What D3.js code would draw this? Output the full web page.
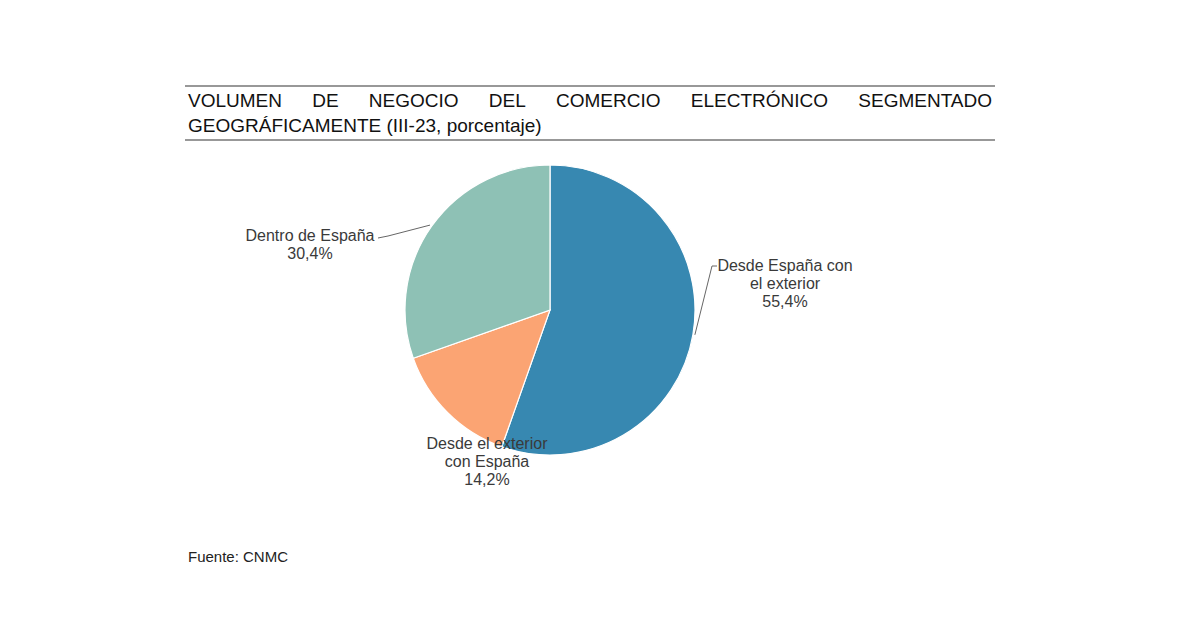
<!DOCTYPE html>
<html>
<head>
<meta charset="utf-8">
<script src="https://cdn.jsdelivr.net/npm/d3@7"></script>
<style>
  body { margin: 0; background: #fff; }
  svg { display: block; }
</style>
</head>
<body>
<svg id="chart" width="1200" height="630"></svg>
<script>
"use strict";

// data
var categories = ["Desde España con el exterior", "Desde el exterior con España", "Dentro de España"];
var labelLines = [["Desde España con", "el exterior"], ["Desde el exterior", "con España"], ["Dentro de España"]];
var values = [55.4, 14.2, 30.4];
var colors = ["#3788b1", "#fba473", "#8ec1b5"];

var titleLines = ["VOLUMEN DE NEGOCIO DEL COMERCIO ELECTRÓNICO SEGMENTADO", "GEOGRÁFICAMENTE (III-23, porcentaje)"];
var source = "Fuente: CNMC";

var svg = d3.select("#chart");
var titleFont = "'Liberation Sans', Arial, sans-serif";

// title rules
svg.append("line").attr("x1", 185).attr("x2", 995).attr("y1", 86).attr("y2", 86)
    .attr("stroke", "#333").attr("stroke-width", 1.2);
svg.append("line").attr("x1", 185).attr("x2", 995).attr("y1", 140).attr("y2", 140)
    .attr("stroke", "#333").attr("stroke-width", 1.2);

// first title line is justified across the full width
var words = titleLines[0].split(" ");
var tg = svg.append("g");
var wt = tg.selectAll("text").data(words).enter().append("text")
    .attr("y", 107)
    .style("font-family", titleFont)
    .style("font-size", "19px")
    .attr("fill", "#111")
    .text(function(d) { return d; });
var widths = [];
wt.each(function() { widths.push(this.getComputedTextLength()); });
var left = 188, right = 992;
var gap = (right - left - d3.sum(widths)) / (words.length - 1);
var x = left;
wt.attr("x", function(d, i) { var p = x; x += widths[i] + gap; return p; });

svg.append("text").attr("x", 188).attr("y", 132)
    .style("font-family", titleFont)
    .style("font-size", "19px")
    .attr("fill", "#111")
    .text(titleLines[1]);

// pie
var cx = 550, cy = 310, r = 145;
var pie = d3.pie().sort(null).value(function(d) { return d; });
var arcs = pie(values);
var arc = d3.arc().innerRadius(0).outerRadius(r);

var g = svg.append("g").attr("transform", "translate(" + cx + "," + cy + ")");
g.selectAll("path").data(arcs).enter().append("path")
    .attr("d", arc)
    .attr("fill", function(d, i) { return colors[i]; })
    .attr("stroke", "#fff")
    .attr("stroke-width", 1.2);

// labels: anchor (centre of first line) and optional leader
var edge = d3.arc().innerRadius(r + 2).outerRadius(r + 2);
var labelAt = [
  { x: 785, y: 271, leader: [[712, 266], [717, 266]] },
  { x: 487, y: 449, leader: null },
  { x: 310, y: 241, leader: [[388, 236], [378, 238]] }
];

arcs.forEach(function(a, i) {
  var L = labelAt[i];
  if (L.leader) {
    var c = edge.centroid(a);
    var pts = [[cx + c[0], cy + c[1]]].concat(L.leader);
    svg.append("path")
        .attr("d", d3.line()(pts))
        .attr("fill", "none")
        .attr("stroke", "#666")
        .attr("stroke-width", 1);
  }
  var lines = labelLines[i].concat([d3.format(".1f")(values[i]).replace(".", ",") + "%"]);
  var t = svg.append("text")
      .attr("text-anchor", "middle")
      .style("font-family", "'Liberation Sans', Arial, sans-serif")
      .style("font-size", "16px")
      .attr("fill", "#3a3a3a");
  t.selectAll("tspan").data(lines).enter().append("tspan")
      .attr("x", L.x)
      .attr("y", function(d, j) { return L.y + j * 18; })
      .text(function(d) { return d; });
});

svg.append("text").attr("x", 188).attr("y", 562)
    .style("font-family", "'Liberation Sans', Arial, sans-serif")
    .style("font-size", "15px")
    .attr("fill", "#222")
    .text(source);
</script>
</body>
</html>
